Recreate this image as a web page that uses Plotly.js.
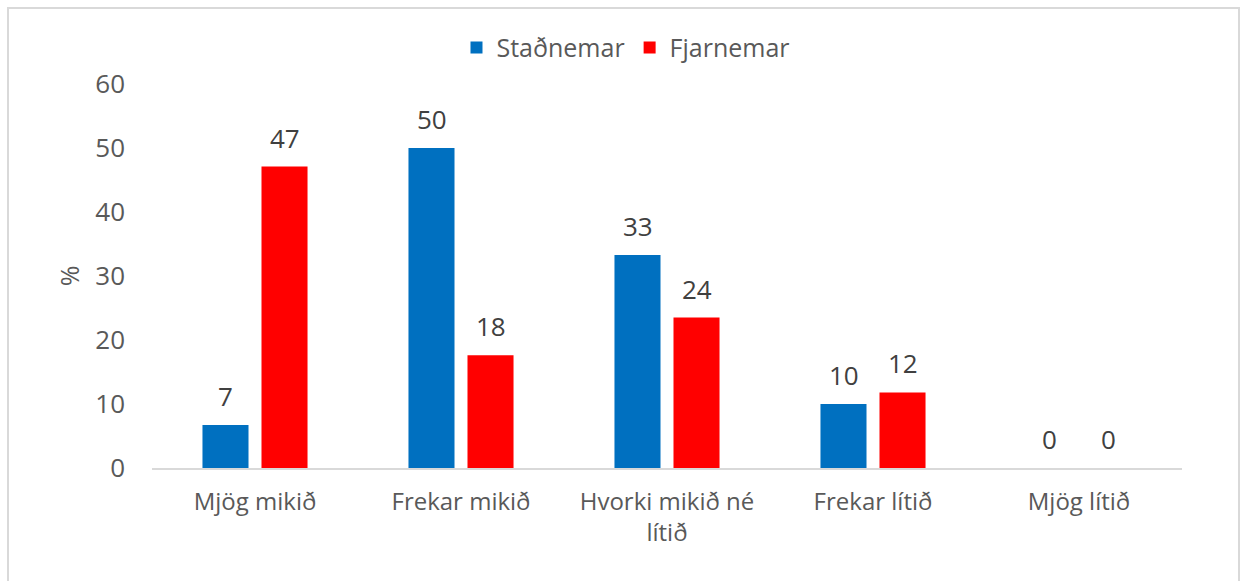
<!DOCTYPE html>
<html>
<head>
<meta charset="utf-8">
<script src="https://cdn.plot.ly/plotly-3.0.1.min.js"></script>
<style>
html,body{margin:0;padding:0;background:#fff;}
#wrap{position:relative;width:1247px;height:581px;overflow:hidden;}
#chart{position:absolute;left:0;top:0;width:1247px;height:581px;}
#frame{position:absolute;left:7px;top:7px;width:1233px;height:590px;border:2px solid #d9d9d9;pointer-events:none;box-sizing:border-box;}
</style>
</head>
<body>
<div id="wrap"><div id="chart"></div><div id="frame"></div></div>
<script>
const categories = ["Mjög mikið", "Frekar mikið", "Hvorki mikið né<br>lítið", "Frekar lítið", "Mjög lítið"];
const stadnemar = [6.7, 50, 33.3, 10, 0];
const fjarnemar = [47.1, 17.6, 23.5, 11.8, 0];
const seriesNames = ["Staðnemar", "Fjarnemar"];
const yTicks = [0, 10, 20, 30, 40, 50, 60];

const FONT = "Open Sans, DejaVu Sans, sans-serif";
const colors = ["#0070C0", "#FF0000"];
const seriesVals = [stadnemar, fjarnemar];

const traces = seriesVals.map((vals, s) => ({
  type: "bar",
  name: seriesNames[s],
  x: categories,
  y: vals,
  marker: {color: colors[s]},
  hoverinfo: "x+y+name"
}));

const annotations = [];
const labelShift = [-29.5, 29.5];
seriesVals.forEach((vals, s) => {
  vals.forEach((v, i) => {
    annotations.push({
      x: categories[i], y: v, xref: "x", yref: "y",
      text: String(Math.round(v)), showarrow: false,
      xshift: labelShift[s], yshift: 29, yanchor: "middle",
      font: {family: FONT, size: 26, color: "#404040"}
    });
  });
});

const layout = {
  width: 1247, height: 581,
  margin: {l: 152, r: 65, t: 84, b: 113},
  paper_bgcolor: "#ffffff", plot_bgcolor: "#ffffff",
  barmode: "group",
  bargap: 0.427,
  bargroupgap: 0.22,
  font: {family: FONT, size: 24, color: "#595959"},
  showlegend: true,
  legend: {
    orientation: "h", xref: "container", yref: "container",
    x: 0.502, xanchor: "center", y: 0.918, yanchor: "middle",
    font: {family: FONT, size: 25, color: "#595959"},
    itemclick: false
  },
  xaxis: {
    type: "category",
    showline: true, linecolor: "#d9d9d9", linewidth: 2,
    showgrid: false, ticks: "", zeroline: false,
    ticklabelstandoff: 11,
    tickfont: {family: FONT, size: 24, color: "#595959"}
  },
  yaxis: {
    range: [0, 60], tickvals: yTicks, ticktext: yTicks.map(String),
    showline: false, showgrid: false, zeroline: false, ticks: "",
    ticklabelstandoff: 26,
    tickfont: {family: FONT, size: 26, color: "#595959"},
    title: {text: "%", font: {family: FONT, size: 25, color: "#595959"}, standoff: 8}
  },
  annotations: annotations
};

Plotly.newPlot("chart", traces, layout, {displayModeBar: false, staticPlot: true});
</script>
</body>
</html>
